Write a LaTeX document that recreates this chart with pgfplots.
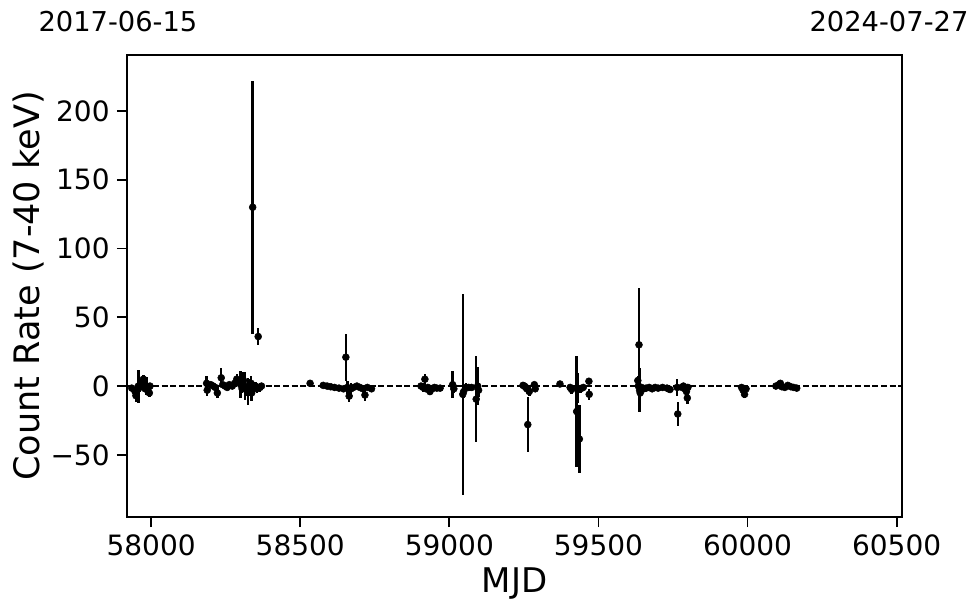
\documentclass[border=0pt]{standalone}
\usepackage{fontspec}
\setmainfont{DejaVu Sans}
\usepackage{pgfplots}
\pgfplotsset{compat=1.18}
\usepackage{pgfplotstable}

% light curve: MJD, rate, 1-sigma error
\pgfplotstableread{
x y e
57935 -1.5 2
57946 -4 3
57949 -7 4.5
57957 0 12
57962 -1 3
57968 2 3
57974 5 3
57980 -2 2
57985 0 6.5
57988 -3 2
57991 -1 2
57994 -5 3
57996 0 2
58186 2 5
58188 -3 4
58200 1 2
58208 0 2
58215 -1 2
58222 -5 4
58235 6 7
58240 1 2
58248 0 2
58255 -1 2
58262 1 2
58272 0 2
58280 2 2
58287 5 4
58295 3 3
58300 1 10
58305 -2 3
58310 4 6
58315 0 10
58320 -3 4
58325 -4 10
58330 -1 6
58335 2 5
58337 -5 6
58340.5 130 92
58345 -1 4
58350 0 3
58355 -2 3
58359 36 6.5
58365 -1 3
58370 0 2
58533 2 2
58577 0.5 1.5
58590 0 1.5
58602 -0.5 1.5
58615 -1 1.5
58630 -1.5 2
58645 -2 2
58653 21 17
58658 -1 5
58664 -7.3 4.5
58670 -2 4
58678 -1 2
58690 0 2
58700 -1 2
58710 -2 2
58717 -6.5 4
58725 -1 2
58739 -2 2
58905 0 2
58912 -1 3
58918 5 4
58922 -2 2
58928 -1 2
58935 -4 2.5
58942 -2 2
58950 -1 2
58958 -1.5 2
58969 -1.5 2
59011 1 10
59015 -2 3
59045 -6 73
59048 -4 5
59055 -1 3
59065 -1 2
59075 -1 2
59090 -9.5 31
59095 0 14
59098 -3 5
59247 0.5 2
59252 0 2
59256 -1 2
59260 -2 3
59263 -28 20
59268 -4 3
59285 1 2
59288 -2 2
59371 1.5 2.5
59405 -1 2
59410 -2.5 3
59427 -18.5 40
59430 -1.5 11
59436 -38.5 25
59440 -2 3
59449 -1 2
59468 3.5 2
59469 -6 4
59632 4 3
59634 0 3
59636 30 41
59638 -3 16
59640 -5 3
59645 -1 2
59652 -2 2
59660 -1.5 2
59670 -1 2
59680 -2 2
59690 -1 1.5
59700 -1.5 2
59715 -1 2
59730 -1.5 2
59735 -2 2
59740 -2.5 2
59764 -1 6
59766 -20.3 8.5
59780 -1 2
59785 0 2
59790 -2 3
59795 -4 3
59798 -8.7 4
59800 -1 2
59980 -1 2
59985 -3 2.5
59990 -6 3
59995 -2 2
60095 0 2
60105 1 2
60110 2 2
60115 -0.5 2
60125 -1 1.5
60135 0.5 1.5
60145 -0.5 1.5
60155 -1 1.5
60165 -1.5 1.5
}\lc

\begin{document}
\begin{tikzpicture}[x=1pt,y=1pt]
\begin{axis}[
  at={(0,0)}, anchor=south west,
  scale only axis, width=581.25pt, height=346.5pt,
  xmin=57919, xmax=60518, ymin=-95.2, ymax=240.7,
  scaled ticks=false,
  xtick={58000,58500,59000,59500,60000,60500},
  xticklabels={58000,58500,59000,59500,60000,60500},
  ytick={-50,0,50,100,150,200},
  yticklabels={−50,0,50,100,150,200},
  tick pos=left, tick align=outside,
  major tick length=7.5pt,
  every tick/.style={black, line width=1.3pt},
  axis line style={line width=0.9pt},
  ticklabel style={font=\fontsize{21}{25}\selectfont},
  xticklabel style={yshift=-2pt},
  yticklabel style={xshift=-2pt},
  xlabel={MJD}, ylabel={Count Rate (7-40 keV)},
  every axis x label/.style={at={(axis description cs:0.5,-0.1429)}, anchor=center,
    font=\fontsize{25.5}{30}\selectfont},
  every axis y label/.style={at={(axis description cs:-0.127,0.5)}, rotate=90, anchor=center,
    font=\fontsize{26.3}{31}\selectfont},
]
\addplot[black, line width=1.1pt, dash pattern=on 4.5pt off 2pt, forget plot]
  coordinates {(57919,0) (60518,0)};
\addplot[only marks, mark=*, mark size=2.6pt, black,
  error bars/.cd, y dir=both, y explicit, error mark=none,
  error bar style={line width=1.85pt, black}]
  table[x=x, y=y, y error=e] {\lc};
\end{axis}
\node[font=\fontsize{20.5}{24}\selectfont] at (-6.75,371.25) {2017-06-15};
\node[font=\fontsize{20.5}{24}\selectfont] at (571.5,371.25) {2024-07-27};
\pgfresetboundingbox
\useasboundingbox (-95.25,-72) rectangle (639.75,387.75);
\end{tikzpicture}
\end{document}
